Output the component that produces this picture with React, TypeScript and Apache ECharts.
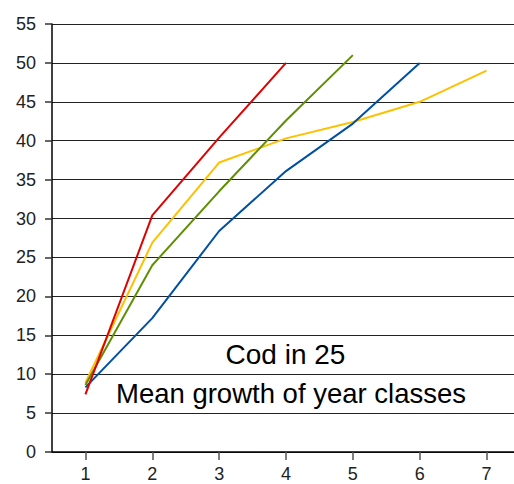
import React, { useEffect, useRef } from "react";
import * as echarts from "echarts";

const categories = ["1", "2", "3", "4", "5", "6", "7"];
const redSeries = [7.4, 30.4, 40.4, 50.0];
const yellowSeries = [8.9, 26.9, 37.2, 40.3, 42.4, 45.0, 49.0];
const greenSeries = [8.6, 24.0, 33.5, 42.6, 51.0];
const blueSeries = [8.3, 17.2, 28.4, 36.1, 42.2, 50.0];
const titleLine1 = "Cod in 25";
const titleLine2 = "Mean growth of year classes";

export default function App() {
  const ref = useRef<HTMLDivElement>(null);
  useEffect(() => {
    if (!ref.current) return;
    const chart = echarts.init(ref.current, undefined, { renderer: "svg" });
    const mk = (name: string, data: number[], color: string) => ({
      name,
      type: "line",
      data,
      symbol: "none",
      lineStyle: { color, width: 2 },
      itemStyle: { color },
      z: 3,
    });
    chart.setOption({
      animation: false,
      backgroundColor: "#ffffff",
      textStyle: { fontFamily: "Liberation Sans, Arial, sans-serif" },
      grid: { left: 52, top: 24, bottom: 32, width: 468, containLabel: false },
      xAxis: {
        type: "category",
        data: categories,
        boundaryGap: true,
        axisLine: { show: true, lineStyle: { color: "#000", width: 1.5 } },
        axisTick: { show: true, alignWithLabel: true, length: 8, lineStyle: { color: "#555", width: 1.5 } },
        axisLabel: { color: "#222", fontSize: 18, margin: 13, fontFamily: "Liberation Sans, Arial, sans-serif" },
        splitLine: { show: false },
      },
      yAxis: {
        type: "value",
        min: 0,
        max: 55,
        interval: 5,
        axisLine: { show: true, lineStyle: { color: "#000", width: 1.5 } },
        axisTick: { show: true, length: 7, lineStyle: { color: "#333", width: 1.5 } },
        axisLabel: { color: "#222", fontSize: 18, margin: 16, fontFamily: "Liberation Sans, Arial, sans-serif" },
        splitLine: { show: true, lineStyle: { color: "#222", width: 1.2 } },
      },
      graphic: [
        {
          type: "text",
          x: 285.5,
          y: 354,
          style: {
            text: titleLine1,
            fontSize: 28,
            fill: "#000",
            align: "center",
            verticalAlign: "middle",
            fontFamily: "Liberation Sans, Arial, sans-serif",
          },
          z: 10,
        },
        {
          type: "text",
          x: 291,
          y: 393,
          style: {
            text: titleLine2,
            fontSize: 27.5,
            fill: "#000",
            align: "center",
            verticalAlign: "middle",
            fontFamily: "Liberation Sans, Arial, sans-serif",
          },
          z: 10,
        },
      ],
      series: [
        mk("yellow", yellowSeries, "#ffc000"),
        mk("green", greenSeries, "#5f8f00"),
        mk("blue", blueSeries, "#0050a0"),
        mk("red", redSeries, "#e00000"),
      ],
    });
    return () => chart.dispose();
  }, []);
  return (
    <div style={{ width: 514, height: 484, position: "absolute", left: 0, top: 0, overflow: "hidden" }}>
      <div ref={ref} style={{ width: 530, height: 484 }} />
    </div>
  );
}
